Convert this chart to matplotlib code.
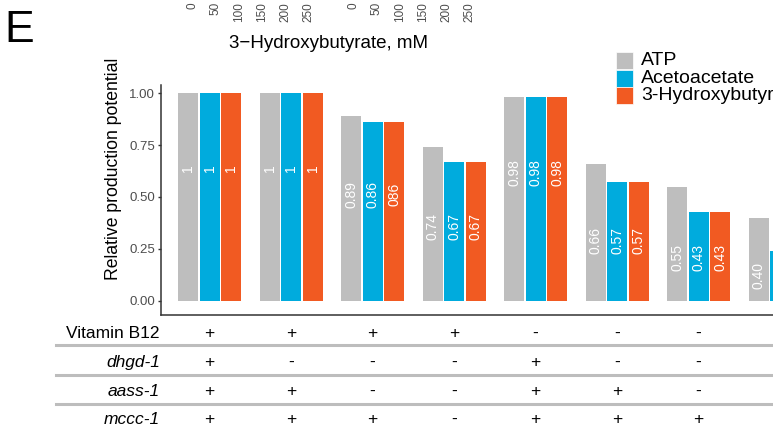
import matplotlib
matplotlib.use("Agg")
import matplotlib.pyplot as plt
from matplotlib.patches import Rectangle
from matplotlib.lines import Line2D
from matplotlib.transforms import blended_transform_factory

plt.rcParams['font.family'] = ['Liberation Sans', 'DejaVu Sans']

# ---- data ----
series = ["ATP", "Acetoacetate", "3-Hydroxybutyrate"]
atp = [1.00, 1.00, 0.89, 0.74, 0.98, 0.66, 0.55, 0.40]
acetoacetate = [1.00, 1.00, 0.86, 0.67, 0.98, 0.57, 0.43, 0.24]
hydroxybutyrate = [1.00, 1.00, 0.86, 0.67, 0.98, 0.57, 0.43, 0.24]
atp_labels = ["1", "1", "0.89", "0.74", "0.98", "0.66", "0.55", "0.40"]
aca_labels = ["1", "1", "0.86", "0.67", "0.98", "0.57", "0.43", ""]
hb_labels = ["1", "1", "086", "0.67", "0.98", "0.57", "0.43", ""]

row_names = ["Vitamin B12", "dhgd-1", "aass-1", "mccc-1"]
vitamin_b12 = ["+", "+", "+", "+", "-", "-", "-"]
dhgd1 = ["+", "-", "-", "-", "+", "-", "-"]
aass1 = ["+", "+", "-", "-", "+", "+", "-"]
mccc1 = ["+", "+", "+", "-", "+", "+", "+"]

yticks = [0.00, 0.25, 0.50, 0.75, 1.00]
conc_ticks = [0, 50, 100, 150, 200, 250]

colors = ["#BEBEBE", "#00ABDD", "#F15A22"]

# ---- figure ----
W, H = 773, 429
fig = plt.figure(figsize=(W / 100, H / 100), dpi=100)


def fx(px):
    return px / W


def fy(py):
    return 1 - py / H


ax = fig.add_axes([fx(160.7), fy(315), fx(829) - fx(160.7), fy(85) - fy(315)])
ax.set_xlim(-0.6, 7.6)
ax.set_ylim(-0.069, 1.04)

slot = 0.264
width = 0.245
values = [atp, acetoacetate, hydroxybutyrate]
labels = [atp_labels, aca_labels, hb_labels]
groups = list(range(len(atp)))
for s, (vals, labs, col) in enumerate(zip(values, labels, colors)):
    xs = [g + (s - 1) * slot for g in groups]
    ax.bar(xs, vals, width=width, color=col, linewidth=0)
    for g, x, lab in zip(groups, xs, labs):
        if not lab:
            continue
        ref = atp[g]
        ax.text(x, 0.62 * ref ** 2 + 0.02, lab, rotation=90, ha="center",
                va="center", color="white", fontsize=10)

for side in ["top", "right"]:
    ax.spines[side].set_visible(False)
for side in ["left", "bottom"]:
    ax.spines[side].set_color("#333333")
    ax.spines[side].set_linewidth(1.1)
ax.set_xticks([])
ax.set_yticks(yticks)
ax.set_yticklabels([f"{t:.2f}" for t in yticks])
ax.tick_params(axis="y", length=2.5, width=1, color="#333333",
               labelcolor="#4D4D4D", labelsize=9.5, pad=1.5)

fig.text(fx(113), fy(169), "Relative production potential", rotation=90,
         ha="center", va="center", fontsize=12.7)

# ---- legend ----
for i, (name, col) in enumerate(zip(series, colors)):
    top = 52 + i * 17.7
    fig.add_artist(Rectangle((fx(616), fy(top + 17)), fx(17), 17 / H,
                             transform=fig.transFigure, facecolor=col,
                             edgecolor="white", linewidth=0.5))
    fig.text(fx(641), fy(top + 8.5), name, ha="left", va="center",
             fontsize=14)

# ---- condition table ----
table = [vitamin_b12, dhgd1, aass1, mccc1]
baselines = [338, 366.5, 396, 424]
trans = blended_transform_factory(ax.transData, fig.transFigure)
for r, (name, row, base) in enumerate(zip(row_names, table, baselines)):
    style = "normal" if r == 0 else "italic"
    fig.text(fx(160), fy(base), name, ha="right", va="baseline",
             fontsize=12.5, style=style)
    for g, sym in zip(groups, row):
        ax.text(g, fy(base), sym, transform=trans, ha="center",
                va="baseline", fontsize=12.5, clip_on=False)

for ly in [345, 374.5, 404]:
    fig.add_artist(Line2D([fx(56), 1.0], [fy(ly), fy(ly)],
                          transform=fig.transFigure, color="#BDBDBD",
                          linewidth=2.2))

# ---- panel letter and concentration axes above ----
fig.text(fx(4.5), fy(42), "E", ha="left", va="baseline", fontsize=32)

for left in [192, 353.3]:
    tax = fig.add_axes([fx(left), 1.0, fx(116.5), 0.001])
    tax.set_xlim(0, 250)
    tax.set_xticks(conc_ticks)
    tax.set_xticklabels([str(t) for t in conc_ticks], rotation=90)
    tax.tick_params(axis="x", length=0, pad=1.4, labelsize=8.5,
                    labelcolor="#4D4D4D")
    tax.set_yticks([])
    for sp in tax.spines.values():
        sp.set_visible(False)
    tax.patch.set_visible(False)

fig.text(fx(229), fy(48), "3\u2212Hydroxybutyrate, mM", ha="left",
         va="baseline", fontsize=13.5)

fig.savefig("out.png", dpi=100)
